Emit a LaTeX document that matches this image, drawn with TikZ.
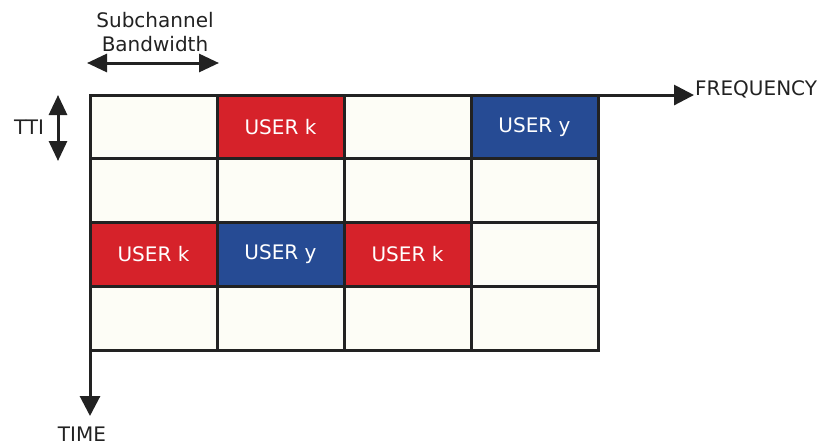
\documentclass[tikz,border=0pt]{standalone}
\usepackage{fontspec}
\setmainfont{DejaVu Sans}
\usepackage{xcolor}
\usetikzlibrary{arrows.meta}

\definecolor{cream}{HTML}{FDFDF6}
\definecolor{userred}{HTML}{D6222A}
\definecolor{userblue}{HTML}{264B94}
\definecolor{ink}{HTML}{222222}

\tikzset{
    cell/.style={draw=ink, line width=3pt, fill=cream, minimum width=127pt,
        minimum height=63.75pt, inner sep=0pt, outer sep=0pt, text=white,
        font=\fontsize{20}{24}\selectfont},
    axis/.style={draw=ink, line width=3pt, -{Triangle[length=20pt,width=20pt]}},
    span/.style={draw=ink, line width=3pt,
        {Triangle[length=20pt,width=18pt]}-{Triangle[length=20pt,width=18pt]}},
    lbl/.style={text=ink, inner sep=0pt, font=\fontsize{20}{24}\selectfont}
}

\begin{document}
\begin{tikzpicture}[x=1pt, y=-1pt]
    \useasboundingbox (0,0) rectangle (817,447);
    % grid of subchannels (columns) and TTIs (rows)
    \foreach \r in {0,...,3}
        \foreach \c in {0,...,3}
            \node[cell] (c\r\c) at ({153.5+127*\c},{126.9+63.75*\r}) {};
    % allocated resource blocks
    \node[cell, fill=userred]  (k1) at (c01) {USER k};
    \node[cell, fill=userblue] (y1) at (c03) {USER y};
    \node[cell, fill=userred]  (k2) at (c20) {USER k};
    \node[cell, fill=userblue] (y2) at (c21) {USER y};
    \node[cell, fill=userred]  (k3) at (c22) {USER k};
    % axes
    \coordinate (freqend) at (694,95.025);
    \coordinate (timeend) at (90,416);
    \draw[axis] (c03.north east) -- (freqend);
    \node[lbl, anchor=west] (freq) at (695,89) {FREQUENCY};
    \draw[axis] (c30.south west) -- (timeend);
    \node[lbl] (time) at (82,434) {TIME};
    % TTI and subchannel bandwidth
    \coordinate (ttitop) at (58,95);
    \coordinate (ttibot) at (58,161);
    \draw[span] (ttitop) -- (ttibot);
    \node[lbl] (tti) at (29,127) {TTI};
    \coordinate (bwleft) at (87,63);
    \coordinate (bwright) at (219,63);
    \draw[span] (bwleft) -- (bwright);
    \node[lbl, align=center] (bw) at (155,32) {Subchannel\\Bandwidth};
\end{tikzpicture}
\end{document}
